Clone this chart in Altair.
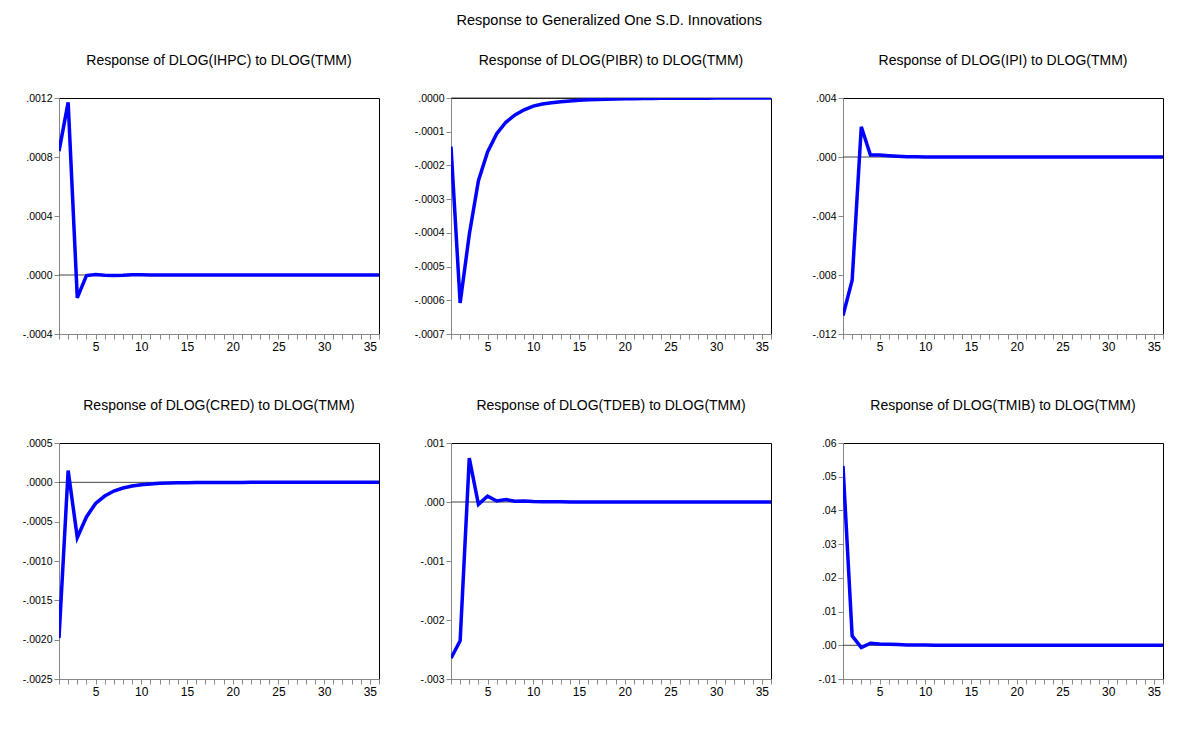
import altair as alt
import pandas as pd

periods = list(range(1, 37))

titles = [
    "Response of DLOG(IHPC) to DLOG(TMM)",
    "Response of DLOG(PIBR) to DLOG(TMM)",
    "Response of DLOG(IPI) to DLOG(TMM)",
    "Response of DLOG(CRED) to DLOG(TMM)",
    "Response of DLOG(TDEB) to DLOG(TMM)",
    "Response of DLOG(TMIB) to DLOG(TMM)",
]

ihpc = [0.00084, 0.00117, -0.000155, -0.000004, 0.000003, -0.000002, -0.000003, -0.000002,
        0.000001, 0.000001, 0.0000005, 0.0000003, 0.0000002, 0.0000001, 0.0000001, 0.0,
        0.0, 0.0, 0.0, 0.0, 0.0, 0.0, 0.0, 0.0, 0.0, 0.0, 0.0, 0.0, 0.0, 0.0,
        0.0, 0.0, 0.0, 0.0, 0.0, 0.0]
pibr = [-0.000144, -0.000608, -0.000405, -0.000245, -0.000160, -0.000106, -0.000072, -0.000050,
        -0.000035, -0.000024, -0.000018, -0.000014, -0.000011, -0.000009, -0.000007, -0.0000055,
        -0.0000045, -0.0000036, -0.000003, -0.0000024, -0.000002, -0.0000016, -0.0000013, -0.000001,
        -0.0000008, -0.0000007, -0.0000006, -0.0000005, -0.0000004, -0.0000003, -0.0000003, -0.0000002,
        -0.0000002, -0.0000002, -0.0000001, -0.0000001]
ipi = [-0.01075, -0.00836, 0.00205, 0.00014, 0.00013, 0.00009, 0.00005, 0.00002,
       0.00001, 0.000005, 0.000003, 0.000002, 0.000001, 0.000001, 0.0, 0.0,
       0.0, 0.0, 0.0, 0.0, 0.0, 0.0, 0.0, 0.0, 0.0, 0.0, 0.0, 0.0, 0.0, 0.0,
       0.0, 0.0, 0.0, 0.0, 0.0, 0.0]
cred = [-0.00198, 0.00015, -0.000702, -0.000440, -0.000268, -0.000174, -0.000111, -0.000072,
        -0.000047, -0.000030, -0.000020, -0.000013, -0.000009, -0.000006, -0.000004, -0.000003,
        -0.000002, -0.0000015, -0.000001, -0.0000008, -0.0000006, -0.0000004, -0.0000003, -0.0000002,
        -0.0000002, -0.0000001, -0.0000001, -0.0000001, 0.0, 0.0, 0.0, 0.0, 0.0, 0.0, 0.0, 0.0]
tdeb = [-0.002646, -0.002354, 0.000743, -0.000040, 0.000100, 0.000017, 0.000040, 0.000012,
        0.000015, 0.000008, 0.000006, 0.000004, 0.000003, 0.000002, 0.000002, 0.000001,
        0.000001, 0.000001, 0.0000005, 0.0000005, 0.0000003, 0.0000002, 0.0000002, 0.0000001,
        0.0000001, 0.0, 0.0, 0.0, 0.0, 0.0, 0.0, 0.0, 0.0, 0.0, 0.0, 0.0]
tmib = [0.0532, 0.0028, -0.0007, 0.0006, 0.0004, 0.0003, 0.00025, 0.0001,
        0.0001, 0.00005, 0.00004, 0.00002, 0.00001, 0.00001, 0.000005, 0.000003,
        0.000002, 0.000001, 0.000001, 0.0, 0.0, 0.0, 0.0, 0.0, 0.0, 0.0, 0.0, 0.0,
        0.0, 0.0, 0.0, 0.0, 0.0, 0.0, 0.0, 0.0]

series = [ihpc, pibr, ipi, cred, tdeb, tmib]

y_domains = [
    [-0.0004, 0.0012],
    [-0.0007, 0.0],
    [-0.012, 0.004],
    [-0.0025, 0.0005],
    [-0.003, 0.001],
    [-0.01, 0.06],
]
y_ticks = [
    [-0.0004, 0.0, 0.0004, 0.0008, 0.0012],
    [-0.0007, -0.0006, -0.0005, -0.0004, -0.0003, -0.0002, -0.0001, 0.0],
    [-0.012, -0.008, -0.004, 0.0, 0.004],
    [-0.0025, -0.0020, -0.0015, -0.0010, -0.0005, 0.0, 0.0005],
    [-0.003, -0.002, -0.001, 0.0, 0.001],
    [-0.01, 0.0, 0.01, 0.02, 0.03, 0.04, 0.05, 0.06],
]
y_formats = [".4f", ".4f", ".3f", ".4f", ".3f", ".2f"]

FONT = "Liberation Sans, Arial, sans-serif"
W, H = 320, 236


def panel(i):
    df = pd.DataFrame({"period": periods, "value": series[i]})
    y_scale = alt.Scale(domain=y_domains[i], nice=False, zero=False)
    x_axis = alt.Axis(
        values=periods,
        labelExpr="datum.value % 5 == 0 ? datum.value : ''",
        labelOverlap=False,
        title=None,
        grid=False,
        tickSize=5,
        labelPadding=2,
        labelFontSize=12,
        minExtent=24,
        maxExtent=24,
    )
    y_axis = alt.Axis(
        values=y_ticks[i],
        labelExpr="(datum.value < 0 ? '-' : '') + replace(format(abs(datum.value), '%s'), '0.', '.')" % y_formats[i],
        title=None,
        grid=False,
        tickSize=5,
        labelPadding=2,
        labelFontSize=10.5,
        minExtent=48,
        maxExtent=48,
    )
    zero = alt.Chart(pd.DataFrame({"value": [0.0]})).mark_rule(
        color="#444444", strokeWidth=1
    ).encode(y=alt.Y("value:Q", scale=y_scale, axis=y_axis))
    line = alt.Chart(df).mark_line(color="#0000FF", strokeWidth=3.5, clip=True).encode(
        x=alt.X("period:Q", scale=alt.Scale(domain=[1, 36], nice=False, zero=False), axis=x_axis),
        y=alt.Y("value:Q", scale=y_scale, axis=y_axis),
    )
    return alt.layer(zero, line).properties(
        width=W,
        height=H,
        view=alt.ViewBackground(stroke="black", strokeWidth=1),
        title=alt.TitleParams(
            titles[i], fontSize=14, font=FONT, fontWeight="normal",
            anchor="middle", frame="group", offset=25, color="black",
        ),
    )


row1 = alt.hconcat(panel(0), panel(1), panel(2), spacing=22)
row2 = alt.hconcat(panel(3), panel(4), panel(5), spacing=22)

chart = alt.vconcat(row1, row2, spacing=39).properties(
    title=alt.TitleParams(
        "Response to Generalized One S.D. Innovations", fontSize=14.5, font=FONT,
        fontWeight="normal", anchor="middle", dx=22, offset=25, color="black",
    ),
    padding={"left": 2, "top": 5, "right": 5, "bottom": 5},
).configure_view(
    stroke="black", strokeWidth=1
).configure_axis(
    labelFont=FONT, labelColor="black", domainColor="black", tickColor="black",
    domainWidth=1, tickWidth=1,
).configure(background="white")

chart.save("out.html", embed_options={"renderer": "svg", "actions": False})
